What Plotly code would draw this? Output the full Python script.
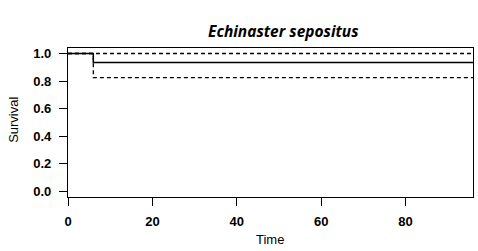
import plotly.graph_objects as go

# Data (Kaplan-Meier estimate with confidence interval)
times = [0, 6, 96]
survival = [1.0, 0.935, 0.935]
upper_ci = [1.0, 1.0, 1.0]
lower_ci = [1.0, 0.825, 0.825]
x_ticks = [0, 20, 40, 60, 80]
y_ticks = [0.0, 0.2, 0.4, 0.6, 0.8, 1.0]
title_text = "Echinaster sepositus"

W, H = 478, 251
L, R, T, B = 67.5, 5, 47.7, 54.3
pw, ph = W - L - R, H - T - B

def px_x(px):
    return (px - L) / pw

def px_y(py):
    return (H - B - py) / ph

fig = go.Figure()
fig.add_trace(go.Scatter(x=times, y=upper_ci, mode="lines", line_shape="hv",
                         line=dict(color="black", width=1.3, dash="4px,3px"), showlegend=False))
fig.add_trace(go.Scatter(x=times, y=lower_ci, mode="lines", line_shape="hv",
                         line=dict(color="black", width=1.3, dash="4px,3px"), showlegend=False))
fig.add_trace(go.Scatter(x=times, y=survival, mode="lines", line_shape="hv",
                         line=dict(color="black", width=1.5), showlegend=False))

tickfont = dict(family="Liberation Sans, Arial", size=13, color="black", weight="bold")
labelfont = dict(family="Liberation Sans, Arial", size=13, color="black")
fig.update_layout(
    width=W, height=H,
    margin=dict(l=L, r=R, t=T, b=B, pad=0),
    paper_bgcolor="white", plot_bgcolor="white",
    xaxis=dict(range=[0, 96], tickvals=x_ticks, ticks="outside", ticklen=8, tickwidth=1.3,
               tickcolor="black", showline=True, linecolor="black", linewidth=1.3, mirror=True,
               showgrid=False, zeroline=False, tickfont=tickfont, ticklabelstandoff=4),
    yaxis=dict(range=[-0.04, 1.04], tickvals=y_ticks, tickformat=".1f", ticks="outside",
               ticklen=8, tickwidth=1.3, tickcolor="black", showline=True, linecolor="black",
               linewidth=1.3, mirror=True, showgrid=False, zeroline=False, tickfont=tickfont,
               ticklabelstandoff=5),
    annotations=[
        dict(text="<b><i>" + title_text + "</i></b>", xref="paper", yref="paper",
             x=px_x(283), y=px_y(31), xanchor="center", yanchor="middle", showarrow=False,
             font=dict(family="Open Sans", size=15.5, color="black")),
        dict(text="Time", xref="paper", yref="paper", x=px_x(270), y=px_y(239),
             xanchor="center", yanchor="middle", showarrow=False, font=labelfont),
        dict(text="Survival", xref="paper", yref="paper", x=px_x(13), y=px_y(120),
             xanchor="center", yanchor="middle", textangle=-90, showarrow=False, font=labelfont),
    ],
)
fig.write_html("out.html")
